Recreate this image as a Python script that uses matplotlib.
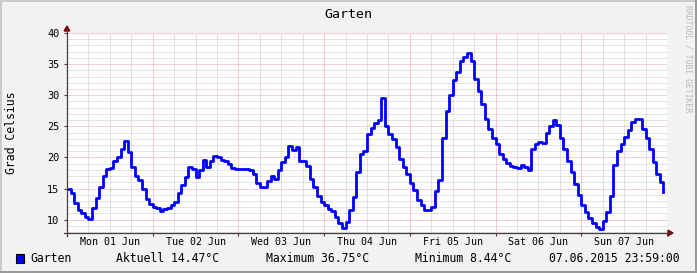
import numpy as np
import matplotlib
matplotlib.use('Agg')
import matplotlib.pyplot as plt
from matplotlib.patches import Rectangle, Polygon
from matplotlib.lines import Line2D

# ---------------- data (hourly temperatures, degC) ----------------
day_labels = ['Mon 01 Jun', 'Tue 02 Jun', 'Wed 03 Jun', 'Thu 04 Jun',
              'Fri 05 Jun', 'Sat 06 Jun', 'Sun 07 Jun']
mon = [14.9, 14.2, 12.6, 11.5, 11.0, 10.5, 10.1, 11.8, 13.5, 15.2, 17.0, 18.2,
       18.3, 19.4, 20.1, 21.4, 22.7, 20.8, 18.4, 17.0, 16.4, 15.0, 13.3, 12.5]
tue = [12.1, 11.8, 11.4, 11.7, 11.9, 12.3, 12.9, 14.2, 15.6, 16.8, 18.4, 18.2,
       16.8, 18.0, 19.6, 18.5, 19.5, 20.3, 20.0, 19.6, 19.4, 19.0, 18.3, 18.1]
wed = [18.1, 18.1, 18.1, 17.9, 17.3, 15.9, 15.2, 15.2, 16.2, 17.0, 16.5, 18.0,
       19.2, 20.1, 21.8, 21.2, 21.6, 19.5, 19.4, 18.6, 16.6, 15.2, 13.8, 12.8]
thu = [12.4, 11.7, 11.4, 10.4, 9.4, 8.6, 9.6, 11.6, 13.6, 17.6, 20.5, 21.1,
       23.7, 24.8, 25.6, 26.0, 29.6, 25.0, 23.7, 22.9, 21.6, 19.8, 18.4, 17.3]
fri = [15.9, 14.7, 13.1, 12.3, 11.5, 11.5, 12.0, 14.6, 16.3, 23.2, 27.4, 30.1,
       32.5, 33.8, 35.5, 36.1, 36.75, 35.5, 32.6, 30.7, 28.6, 26.2, 24.6, 23.2]
sat = [22.2, 20.5, 19.7, 19.1, 18.7, 18.4, 18.3, 18.8, 18.5, 18.0, 21.3, 22.2,
       22.4, 22.3, 23.9, 25.0, 26.0, 25.2, 23.2, 21.3, 19.5, 17.6, 15.7, 13.9]
sun = [12.3, 11.2, 10.3, 9.5, 8.8, 8.44, 9.7, 11.3, 13.8, 18.8, 21.0, 22.1,
       23.3, 24.4, 25.7, 26.2, 26.2, 24.5, 23.2, 21.3, 19.2, 17.4, 16.0, 14.47]
y_ticks = [10, 15, 20, 25, 30, 35, 40]
title = 'Garten'
y_label = 'Grad Celsius'
series_name = 'Garten'
aktuell = '14.47'
maximum = '36.75'
minimum = '8.44'
timestamp = '07.06.2015 23:59:00'
watermark = 'RRDTOOL / TOBI OETIKER'

temps = np.array(mon + tue + wed + thu + fri + sat + sun)
hours = np.arange(len(temps))

# ---------------- figure ----------------
W, H = 697, 273
FONT = 'DejaVu Sans Mono'
fig = plt.figure(figsize=(W / 100, H / 100), dpi=100, facecolor='#F2F2F2')

def fx(x):
    return x / W

def fy(y):
    return 1 - y / H

L, R, T, B = 67, 667, 33, 233
ax = fig.add_axes([fx(L), fy(B), (R - L) / W, (B - T) / H])
ax.set_facecolor('white')
ax.set_xlim(0, 168)
ax.set_ylim(7.85, 40)
for s in ax.spines.values():
    s.set_visible(False)

# grid
minor_c = '#C8C8C8'
major_c = '#E8A0A0'
dot = (0, (1, 1))
for h in range(6, 168, 6):
    if h % 24:
        ax.axvline(h, color=minor_c, lw=0.72, ls=dot, zorder=1)
for v in range(8, 41):
    if v % 5:
        ax.axhline(v, color=minor_c, lw=0.72, ls=dot, zorder=1)
for h in range(24, 168, 24):
    ax.axvline(h, color=major_c, lw=0.72, ls=dot, zorder=1.5)
for v in y_ticks:
    ax.axhline(v, color=major_c, lw=0.72, ls=dot, zorder=1.5)

# data line
ax.step(hours, temps, where='post', color='#0000FF', lw=2.0, zorder=3)

# ticks
axis_c = '#4A3C3C'
ax.set_yticks(y_ticks)
ax.set_yticklabels([str(v) for v in y_ticks], fontfamily=FONT, fontsize=7.4)
ax.set_xticks(np.arange(0, 169, 24))
ax.set_xticklabels([])
ax.set_xticks(np.arange(12, 168, 24), minor=True)
ax.set_xticklabels(day_labels, minor=True, fontfamily=FONT, fontsize=7.2)
ax.tick_params(axis='x', which='major', length=2.5, color=axis_c, width=0.8)
ax.tick_params(axis='x', which='minor', length=0, pad=3.2)
ax.tick_params(axis='y', which='major', length=2.5, color=axis_c, width=0.8, pad=3)

# axes lines and arrows (figure pixel coords)
fig.add_artist(Line2D([fx(L), fx(L)], [fy(B + 3), fy(29)], color=axis_c, lw=0.9))
fig.add_artist(Line2D([fx(L - 3), fx(670)], [fy(B), fy(B)], color=axis_c, lw=0.9))
arrow_c = '#7F0000'
fig.add_artist(Polygon([[fx(L - 2.8), fy(31)], [fx(L + 2.8), fy(31)], [fx(L), fy(26)]],
                       closed=True, color=arrow_c, transform=fig.transFigure))
fig.add_artist(Polygon([[fx(668), fy(B - 2.8)], [fx(668), fy(B + 2.8)], [fx(673), fy(B)]],
                       closed=True, color=arrow_c, transform=fig.transFigure))

# texts
fig.text(fx(348), fy(14), title, ha='center', va='center', fontfamily=FONT, fontsize=9.5)
fig.text(fx(12), fy(133), y_label, ha='center', va='center', rotation=90,
         fontfamily=FONT, fontsize=8.3)
fig.text(fx(688), fy(59), watermark, ha='center', va='center', rotation=270,
         fontfamily=FONT, fontsize=5.9, color='#B8B8B8')

ly = 258
fig.add_artist(Rectangle((fx(15.5), fy(262.5)), 8.5 / W, 8.5 / H, facecolor='#0000FF',
                         edgecolor='black', lw=0.8, transform=fig.transFigure))
fig.text(fx(30), fy(ly), series_name, ha='left', va='center', fontfamily=FONT, fontsize=8.3)
fig.text(fx(116), fy(ly), 'Aktuell ' + aktuell + '°C', ha='left', va='center',
         fontfamily=FONT, fontsize=8.3)
fig.text(fx(266), fy(ly), 'Maximum ' + maximum + '°C', ha='left', va='center',
         fontfamily=FONT, fontsize=8.3)
fig.text(fx(415), fy(ly), 'Minimum ' + minimum + '°C', ha='left', va='center',
         fontfamily=FONT, fontsize=8.3)
fig.text(fx(549), fy(ly), timestamp, ha='left', va='center', fontfamily=FONT, fontsize=8.3)

# 3D frame
light = '#CBCBCB'
dark = '#999999'
fig.add_artist(Rectangle((0, fy(2)), 1, 2 / H, color=light, transform=fig.transFigure, lw=0))
fig.add_artist(Rectangle((0, 0), 2 / W, 1, color=light, transform=fig.transFigure, lw=0))
fig.add_artist(Rectangle((0, 0), 1, 2.5 / H, color=dark, transform=fig.transFigure, lw=0))
fig.add_artist(Rectangle((fx(W - 2.5), 0), 2.5 / W, 1, color=dark, transform=fig.transFigure, lw=0))

fig.savefig('out.png', dpi=100, facecolor=fig.get_facecolor())
